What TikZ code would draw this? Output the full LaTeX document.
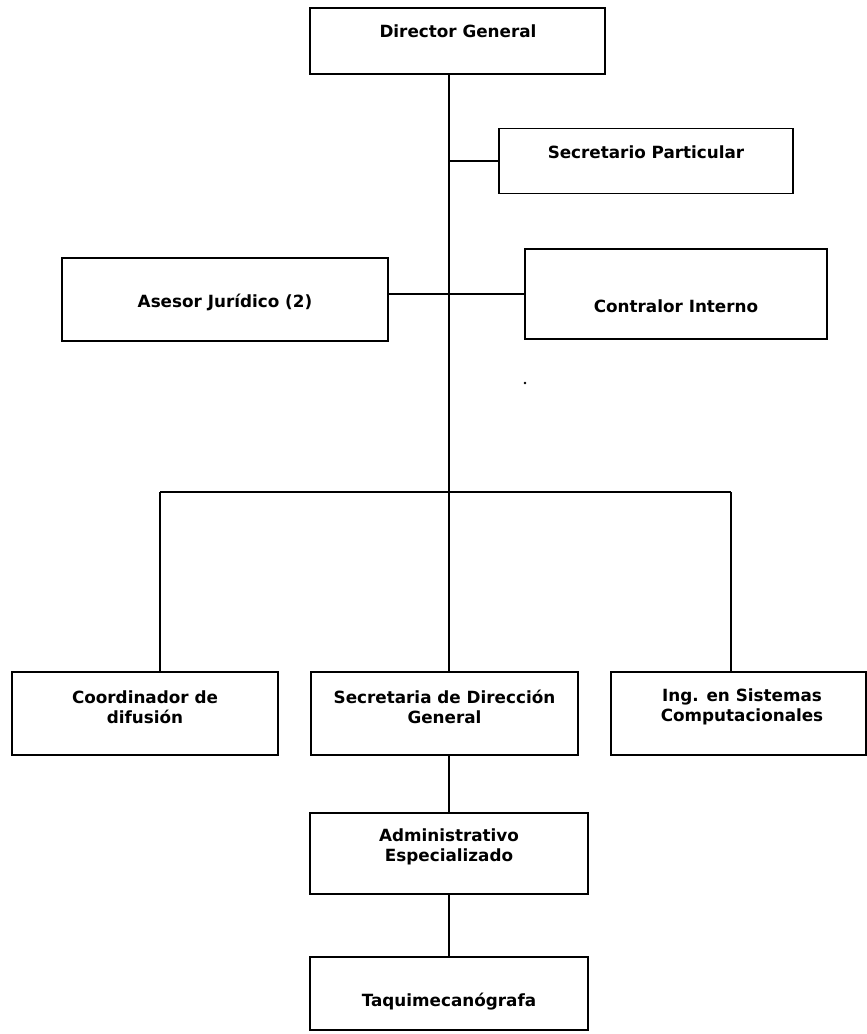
\documentclass[tikz,border=0pt]{standalone}
\usepackage{fontspec}
\setmainfont{DejaVu Sans}
\begin{document}
\begin{tikzpicture}[x=1pt,y=-1pt,
  box/.style={draw, line width=1.5pt, inner sep=0pt},
  txt/.style={font=\fontsize{16.8}{20.5}\selectfont\bfseries, align=center, inner sep=0pt},
  conn/.style={line width=1.6pt}]
\useasboundingbox (0,0) rectangle (867,1034);
% boxes
\node[box, minimum width=295pt, minimum height=66pt] (dg) at (457.5,41) {};
\node[box, minimum width=294pt, minimum height=65pt] (sp) at (646,161) {};
\node[box, minimum width=326pt, minimum height=83pt] (aj) at (225,299.5) {};
\node[box, minimum width=302pt, minimum height=90pt] (ci) at (676,294) {};
\node[box, minimum width=266pt, minimum height=83pt] (cd) at (145,713.5) {};
\node[box, minimum width=267pt, minimum height=83pt] (sd) at (444.5,713.5) {};
\node[box, minimum width=255pt, minimum height=83pt] (is) at (738.5,713.5) {};
\node[box, minimum width=278pt, minimum height=81pt] (ad) at (449,853.5) {};
\node[box, minimum width=278pt, minimum height=73pt] (tq) at (449,993.5) {};
% texts
\node[txt] (dgt) at (458,31.5) {Director General};
\node[txt] (spt) at (646,152.5) {Secretario Particular};
\node[txt] (ajt) at (225,302) {Asesor Jurídico (2)};
\node[txt] (cit) at (676,306) {Contralor Interno};
\node[txt] (cdt) at (145,707) {Coordinador de\\difusión};
\node[txt] (sdt) at (444.5,707) {Secretaria de Dirección\\General};
\node[txt] (ist) at (742,707) {Ing. en Sistemas\\Computacionales};
\node[txt] (adt) at (449,847) {Administrativo\\Especializado};
\node[txt] (tqt) at (449,1001.5) {Taquimecanógrafa};
% connectors
\coordinate (trunk) at (449,492);
\coordinate (busL) at (160,492);
\coordinate (busR) at (731,492);
\draw[conn] (dg.south -| trunk) -- (trunk |- sd.north);
\draw[conn] (trunk |- sp.west) -- (sp.west);
\draw[conn] (aj.east |- ci.west) -- (ci.west);
\draw[conn] (busL) -- (busR);
\draw[conn] (busL) -- (busL |- cd.north);
\draw[conn] (busR) -- (busR |- is.north);
\draw[conn] (trunk |- sd.south) -- (trunk |- ad.north);
\draw[conn] (ad.south) -- (tq.north);
\fill (525,383) circle (1.3pt);
\end{tikzpicture}
\end{document}
